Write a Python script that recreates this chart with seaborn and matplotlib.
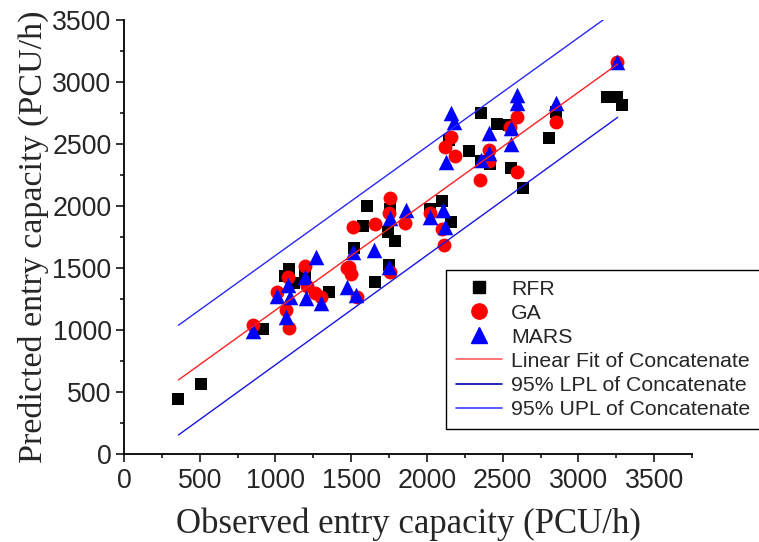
import matplotlib
matplotlib.use("Agg")
import matplotlib.pyplot as plt
from matplotlib.ticker import MultipleLocator
from matplotlib.lines import Line2D
import seaborn as sns
import pandas as pd

# ---- data ----
rfr_obs = [357, 509, 917, 1087, 1065, 1120, 1193, 1351, 1601, 1753, 1579, 1744,
           1788, 1517, 1748, 1656, 2019, 2101, 2160, 2145, 2357, 2460, 2542, 2279,
           2354, 2416, 2553, 2632, 2851, 2806, 3192, 3254, 3291]
rfr_pred = [444, 566, 1005, 1489, 1435, 1376, 1444, 1304, 2003, 1976, 1839, 1788,
            1720, 1659, 1524, 1390, 1973, 2043, 1868, 2532, 2747, 2659, 2653, 2444,
            2365, 2339, 2304, 2148, 2761, 2551, 2876, 2876, 2815]

ga_obs = [849, 1071, 1089, 1010, 1082, 1193, 1208, 1263, 1301, 1473, 1753, 1748,
          1858, 1512, 1656, 1484, 1501, 1755, 1538, 2017, 2101, 2114, 2348, 2156,
          2119, 2183, 2593, 2548, 2409, 2409, 2593, 2851, 3254]
ga_pred = [1038, 1161, 1013, 1309, 1430, 1516, 1355, 1296, 1269, 1497, 2062, 1941,
           1860, 1833, 1855, 1511, 1449, 1470, 1269, 1941, 1815, 1688, 2210, 2559,
           2478, 2406, 2720, 2640, 2452, 2360, 2277, 2680, 3164]

mars_obs = [851, 1069, 1010, 1080, 1093, 1268, 1193, 1204, 1303, 1473, 1753, 1860,
            1510, 1653, 1748, 1532, 2017, 2107, 2116, 2160, 2178, 2123, 2553, 2593,
            2593, 2409, 2553, 2409, 2354, 2851, 3254]
mars_pred = [992, 1107, 1274, 1363, 1269, 1591, 1430, 1255, 1215, 1349, 1906, 1968,
             1632, 1645, 1505, 1282, 1914, 1968, 1833, 2747, 2680, 2357, 2627, 2895,
             2828, 2586, 2497, 2425, 2371, 2828, 3164]

# fit line and 95% prediction limits (end points)
fit_x = [359, 3259]
fit_y = [597, 3145]
lpl_y = [153, 2715]
upl_y = [1038, 3585]

models = ["RFR", "GA", "MARS"]
colors = {"RFR": "black", "GA": "#FF0000", "MARS": "#0000FF"}
markers = {"RFR": "s", "GA": "o", "MARS": "^"}
sizes = {"RFR": 72, "GA": 100, "MARS": 125}

df = pd.concat([
    pd.DataFrame({"obs": rfr_obs, "pred": rfr_pred, "model": "RFR"}),
    pd.DataFrame({"obs": ga_obs, "pred": ga_pred, "model": "GA"}),
    pd.DataFrame({"obs": mars_obs, "pred": mars_pred, "model": "MARS"}),
])

sns.set_style("ticks")
plt.rcParams["font.family"] = ["Liberation Sans", "DejaVu Sans"]

fig = plt.figure(figsize=(7.59, 5.42), dpi=100)
ax = fig.add_axes([0.1634, 0.1624, 0.7483, 0.8006])

# scatter: squares first, then circles, triangles on top
for m in models:
    sub = df[df["model"] == m]
    sns.scatterplot(data=sub, x="obs", y="pred", marker=markers[m], color=colors[m],
                    s=sizes[m], linewidth=0, ax=ax, legend=False, zorder=3)

ax.plot(fit_x, fit_y, color="#FF2020", lw=1.0, zorder=4)
ax.plot(fit_x, lpl_y, color="#1515E6", lw=1.0, zorder=4)
ax.plot(fit_x, upl_y, color="#2828FF", lw=1.0, zorder=4)

ax.set_xlim(0, 3750)
ax.set_ylim(0, 3500)
ax.xaxis.set_major_locator(MultipleLocator(500))
ax.xaxis.set_minor_locator(MultipleLocator(250))
ax.yaxis.set_major_locator(MultipleLocator(500))
ax.yaxis.set_minor_locator(MultipleLocator(250))
ax.set_xticks([0, 500, 1000, 1500, 2000, 2500, 3000, 3500])
ax.tick_params(which="major", length=6, width=1.1, labelsize=19.3, pad=3, color="black")
ax.tick_params(axis="x", which="major", pad=4)
ax.tick_params(which="minor", length=3, width=1.1, color="black")
for s in ["top", "right"]:
    ax.spines[s].set_visible(False)
for s in ["left", "bottom"]:
    ax.spines[s].set_linewidth(1.3)
    ax.spines[s].set_color("black")

ax.set_xlabel("Observed entry capacity (PCU/h)", fontsize=25,
              family="Liberation Serif", labelpad=10)
ax.set_ylabel("Predicted entry capacity (PCU/h)", fontsize=24.5,
              family="Liberation Serif", labelpad=2)

handles = [
    Line2D([], [], ls="", marker="s", color="black", markersize=9),
    Line2D([], [], ls="", marker="o", color="#FF0000", markersize=11),
    Line2D([], [], ls="", marker="^", color="#0000FF", markersize=11),
    Line2D([], [], color="#FF6060", lw=1.2),
    Line2D([], [], color="#0000B0", lw=1.2),
    Line2D([], [], color="#4040FF", lw=1.2),
]
labels = ["RFR", "GA", "MARS", "Linear Fit of Concatenate",
          "95% LPL of Concatenate", "95% UPL of Concatenate"]
leg = fig.legend(handles, labels, loc="upper left", bbox_to_anchor=(446 / 759, 1 - 270 / 542),
                 bbox_transform=fig.transFigure, fontsize=15.3, frameon=True, fancybox=False,
                 borderaxespad=0, borderpad=0.45, labelspacing=0.24, handlelength=2.2,
                 handletextpad=0.4, edgecolor="black", framealpha=1)
leg.get_frame().set_linewidth(1.0)

fig.savefig("out.png", dpi=100)
